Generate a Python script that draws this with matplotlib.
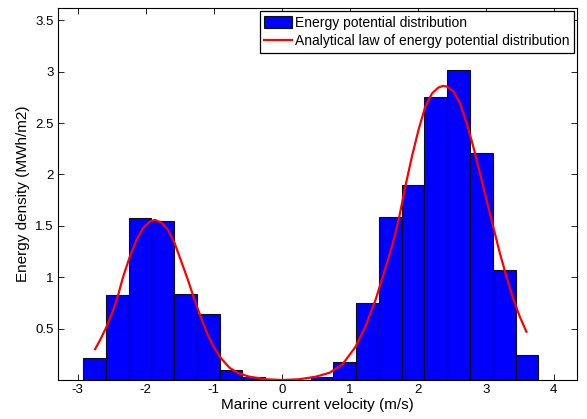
import numpy as np
import matplotlib
matplotlib.use("Agg")
import matplotlib.pyplot as plt

plt.rcParams['font.family'] = ['Liberation Sans', 'DejaVu Sans']

# histogram bins (m/s) and energy density per bin (MWh/m2)
bin_edges = [-2.92, -2.585, -2.251, -1.916, -1.582, -1.247, -0.913, -0.578,
             -0.244, 0.091, 0.425, 0.76, 1.094, 1.429, 1.763, 2.098, 2.432,
             2.767, 3.101, 3.436, 3.77]
energy = [0.21, 0.83, 1.58, 1.55, 0.84, 0.645, 0.095, 0.03, 0.0, 0.0,
          0.03, 0.175, 0.745, 1.585, 1.90, 2.755, 3.02, 2.205, 1.075, 0.24]

# analytical law, points
law_x = [-2.745, -2.67, -2.575, -2.478, -2.40, -2.332, -2.234, -2.136, -2.04,
         -1.941, -1.868, -1.77, -1.673, -1.575, -1.477, -1.38, -1.283, -1.184,
         -1.088, -0.99, -0.893, -0.77, -0.65, -0.477, -0.23, 0.01, 0.255, 0.50,
         0.70, 0.89, 1.085, 1.23, 1.378, 1.5, 1.62, 1.718, 1.816, 1.913, 2.01,
         2.11, 2.21, 2.30, 2.37, 2.43, 2.52, 2.62, 2.718, 2.815, 2.913, 3.01,
         3.108, 3.206, 3.303, 3.40, 3.499, 3.596]
law_y = [0.30, 0.39, 0.52, 0.68, 0.84, 1.006, 1.20, 1.363, 1.477,
         1.541, 1.558, 1.532, 1.46, 1.331, 1.152, 0.974, 0.779, 0.60,
         0.438, 0.309, 0.211, 0.12, 0.07, 0.032, 0.007, 0.0, 0.007, 0.032,
         0.07, 0.15, 0.324, 0.52, 0.779, 1.039, 1.298, 1.558, 1.882, 2.174, 2.434,
         2.661, 2.79, 2.845, 2.862, 2.855, 2.812, 2.694, 2.50, 2.272, 2.013, 1.753,
         1.493, 1.234, 1.006, 0.795, 0.616, 0.47]

xticks = [-3, -2, -1, 0, 1, 2, 3, 4]
yticks = [0.5, 1, 1.5, 2, 2.5, 3, 3.5]

fig = plt.figure(figsize=(5.87, 4.19), dpi=100)
ax = fig.add_axes([58 / 587, 39 / 419, 519 / 587, 372 / 419])

edges = np.array(bin_edges)
bars = ax.bar(edges[:-1], energy, width=np.diff(edges), align='edge',
              color='#0000ff', edgecolor='#111111', linewidth=0.8, zorder=2)
line, = ax.plot(law_x, law_y, color='#ff0000', linewidth=1.6, zorder=3)

ax.set_xlim(-3.29, 4.34)
ax.set_ylim(0, 3.62)
ax.set_xticks(xticks)
ax.set_xticklabels([str(t) for t in xticks])
ax.set_yticks(yticks)
ax.set_yticklabels(['0.5', '1', '1.5', '2', '2.5', '3', '3.5'])
ax.tick_params(direction='in', top=True, right=True, length=4, width=0.6,
               labelsize=9.5, pad=3)
for s in ax.spines.values():
    s.set_linewidth(0.8)

ax.set_xlabel('Marine current velocity (m/s)', fontsize=11, labelpad=1)
ax.set_ylabel('Energy density (MWh/m2)', fontsize=11, labelpad=4)

leg = ax.legend([bars, line],
                ['Energy potential distribution',
                 'Analytical law of energy potential distribution'],
                loc='upper right', fontsize=10, fancybox=False,
                framealpha=1, edgecolor='black', borderaxespad=0.25,
                handlelength=2.0, handleheight=1.0, handletextpad=0.2,
                borderpad=0.3, labelspacing=0.35)
leg.get_frame().set_linewidth(0.9)

fig.savefig('out.png', dpi=100)
